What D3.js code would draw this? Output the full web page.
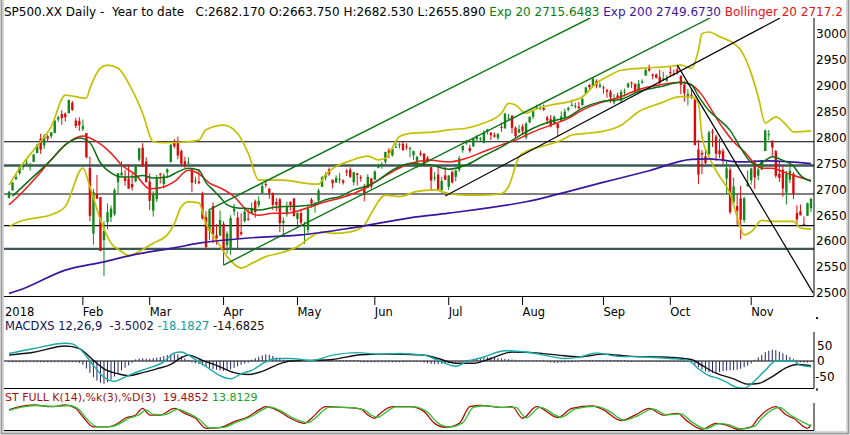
<!DOCTYPE html>
<html>
<head>
<meta charset="utf-8">
<script src="https://cdn.jsdelivr.net/npm/d3@7"></script>
<style>
body { margin: 0; background: #fff; }
text { font-family: "DejaVu Sans", sans-serif; white-space: pre; }
</style>
</head>
<body>
<div id="chart"></div>
<script>
// trading days, 2018
const dates = [
"01-02","01-03","01-04","01-05","01-08","01-09","01-10","01-11","01-12","01-16","01-17","01-18","01-19","01-22","01-23","01-24","01-25","01-26","01-29","01-30","01-31",
"02-01","02-02","02-05","02-06","02-07","02-08","02-09","02-12","02-13","02-14","02-15","02-16","02-20","02-21","02-22","02-23","02-26","02-27","02-28",
"03-01","03-02","03-05","03-06","03-07","03-08","03-09","03-12","03-13","03-14","03-15","03-16","03-19","03-20","03-21","03-22","03-23","03-26","03-27","03-28","03-29",
"04-02","04-03","04-04","04-05","04-06","04-09","04-10","04-11","04-12","04-13","04-16","04-17","04-18","04-19","04-20","04-23","04-24","04-25","04-26","04-27","04-30",
"05-01","05-02","05-03","05-04","05-07","05-08","05-09","05-10","05-11","05-14","05-15","05-16","05-17","05-18","05-21","05-22","05-23","05-24","05-25","05-29","05-30","05-31",
"06-01","06-04","06-05","06-06","06-07","06-08","06-11","06-12","06-13","06-14","06-15","06-18","06-19","06-20","06-21","06-22","06-25","06-26","06-27","06-28","06-29",
"07-02","07-03","07-05","07-06","07-09","07-10","07-11","07-12","07-13","07-16","07-17","07-18","07-19","07-20","07-23","07-24","07-25","07-26","07-27","07-30","07-31",
"08-01","08-02","08-03","08-06","08-07","08-08","08-09","08-10","08-13","08-14","08-15","08-16","08-17","08-20","08-21","08-22","08-23","08-24","08-27","08-28","08-29","08-30","08-31",
"09-04","09-05","09-06","09-07","09-10","09-11","09-12","09-13","09-14","09-17","09-18","09-19","09-20","09-21","09-24","09-25","09-26","09-27","09-28",
"10-01","10-02","10-03","10-04","10-05","10-08","10-09","10-10","10-11","10-12","10-15","10-16","10-17","10-18","10-19","10-22","10-23","10-24","10-25","10-26","10-29","10-30","10-31",
"11-01","11-02","11-05","11-06","11-07","11-08","11-09","11-12","11-13","11-14","11-15","11-16","11-19","11-20","11-21","11-23","11-26","11-27"
];

const open = [
2683.7,2697.9,2719.3,2731.3,2742.7,2751.2,2745.6,2753.0,2770.2,2798.0,2785.0,2802.4,2802.6,2809.2,2835.1,2845.4,2846.2,2847.5,2867.2,2832.7,2832.4,
2816.5,2808.9,2741.1,2614.8,2690.9,2685.0,2601.8,2636.8,2646.3,2651.8,2713.5,2727.1,2722.0,2720.5,2710.4,2715.8,2757.4,2780.5,2753.8,
2715.2,2658.9,2681.1,2730.2,2710.2,2732.8,2752.9,2790.5,2792.3,2774.1,2754.3,2750.6,2741.4,2715.1,2714.9,2691.4,2646.7,2619.4,2667.6,2611.3,2610.8,
2633.5,2592.2,2584.0,2657.4,2645.8,2617.2,2638.4,2643.0,2653.8,2676.9,2670.1,2692.7,2710.1,2701.2,2692.6,2675.4,2680.8,2634.9,2651.7,2675.5,2682.5,
2643.0,2654.2,2628.1,2621.5,2680.3,2670.3,2678.1,2705.0,2722.7,2738.5,2718.6,2713.0,2719.7,2717.4,2735.4,2738.3,2713.9,2730.9,2723.6,2705.1,2702.4,2720.9,
2718.7,2741.7,2748.5,2753.3,2774.8,2765.8,2780.2,2785.6,2787.9,2783.2,2777.8,2765.8,2752.0,2769.7,2769.3,2760.8,2742.9,2722.1,2728.5,2698.7,2727.1,
2704.9,2733.3,2724.2,2737.7,2775.6,2788.6,2779.8,2783.1,2796.9,2797.4,2789.3,2811.4,2809.4,2804.6,2799.2,2820.7,2817.7,2835.5,2842.4,2819.0,2809.7,
2821.2,2800.5,2829.6,2840.3,2855.9,2856.8,2857.2,2838.9,2835.5,2827.9,2827.0,2831.4,2838.3,2853.9,2861.5,2860.9,2860.3,2862.4,2884.7,2901.5,2900.6,2908.9,2898.4,
2896.9,2891.6,2888.6,2868.3,2881.4,2871.6,2888.3,2896.9,2906.4,2903.8,2890.7,2906.6,2919.7,2936.8,2921.8,2921.8,2916.9,2911.7,2910.0,
2926.3,2923.8,2931.7,2919.4,2902.5,2877.5,2882.5,2873.9,2776.9,2770.5,2763.8,2767.1,2811.7,2802.0,2775.7,2773.9,2721.0,2737.9,2674.9,2667.9,2682.7,2640.7,2705.6,
2717.6,2745.5,2726.4,2738.4,2774.1,2806.4,2794.1,2773.9,2730.1,2737.9,2693.5,2718.5,2730.1,2654.6,2657.7,2633.4,2649.0,2663.8
];
const high = [
2695.9,2714.4,2729.3,2743.5,2748.5,2759.1,2750.8,2767.6,2787.9,2807.5,2807.0,2805.8,2810.3,2833.0,2842.2,2853.0,2848.6,2872.9,2870.6,2837.8,2839.3,
2835.0,2808.9,2763.4,2701.0,2727.7,2685.3,2638.7,2672.6,2668.8,2702.1,2731.5,2754.4,2737.6,2747.8,2731.3,2747.8,2780.0,2789.2,2761.5,
2730.9,2696.3,2728.1,2732.1,2730.6,2740.5,2786.6,2796.9,2801.9,2777.1,2763.0,2761.9,2741.4,2724.2,2739.1,2695.7,2657.7,2661.4,2674.8,2632.7,2659.1,
2638.3,2619.1,2649.9,2672.1,2656.9,2653.6,2665.5,2661.4,2674.7,2680.3,2686.5,2713.3,2717.5,2702.8,2693.9,2682.9,2683.6,2645.3,2676.5,2677.4,2682.9,
2655.3,2660.9,2637.1,2670.9,2683.4,2676.3,2701.3,2726.1,2732.9,2742.1,2718.6,2727.0,2731.9,2719.5,2739.2,2742.2,2733.3,2731.9,2727.4,2710.7,2729.3,2722.5,
2736.9,2749.2,2752.6,2772.4,2779.9,2779.4,2790.2,2789.8,2791.5,2789.1,2782.8,2774.9,2765.1,2774.9,2769.3,2764.2,2742.9,2732.9,2746.1,2724.3,2743.3,
2727.3,2736.6,2737.8,2764.4,2784.7,2795.6,2785.9,2799.2,2804.5,2801.2,2814.2,2816.8,2810.5,2809.7,2808.6,2829.0,2848.0,2845.6,2843.2,2821.7,2824.5,
2825.8,2829.9,2840.4,2853.3,2863.4,2862.4,2864.0,2842.2,2843.4,2843.1,2827.0,2850.5,2855.6,2859.8,2873.2,2867.5,2868.8,2876.2,2898.3,2903.8,2916.5,2912.5,2906.3,
2900.2,2894.2,2892.1,2883.8,2886.9,2892.5,2894.7,2906.8,2908.3,2904.7,2911.2,2912.4,2934.8,2940.9,2923.8,2923.9,2931.2,2927.2,2920.5,
2937.1,2931.4,2939.9,2919.8,2909.6,2894.0,2894.8,2874.0,2795.1,2775.8,2775.9,2813.5,2816.9,2806.0,2797.8,2778.9,2753.6,2742.6,2722.7,2692.4,2706.9,2685.4,2736.7,
2741.7,2756.6,2744.3,2756.8,2815.2,2814.8,2794.1,2775.9,2754.6,2746.8,2735.4,2746.8,2733.2,2669.4,2670.7,2647.6,2674.4,2682.5
];
const low = [
2682.4,2697.8,2719.1,2727.9,2737.6,2747.9,2736.1,2752.8,2769.6,2768.6,2778.4,2792.6,2798.1,2808.1,2830.6,2824.8,2830.9,2846.2,2851.5,2818.3,2813.0,
2812.7,2759.9,2638.2,2593.1,2681.3,2580.6,2532.7,2622.5,2637.1,2648.9,2689.8,2725.1,2706.8,2701.3,2697.8,2713.7,2753.8,2744.2,2713.5,
2659.7,2647.3,2675.8,2711.3,2701.7,2721.5,2751.5,2779.3,2758.7,2744.4,2741.5,2749.0,2694.6,2710.1,2709.8,2641.6,2585.9,2601.8,2596.1,2593.1,2609.7,
2553.8,2575.5,2573.6,2649.6,2586.3,2610.8,2635.8,2639.3,2653.8,2645.1,2665.2,2692.1,2703.6,2681.9,2660.6,2657.9,2617.3,2612.7,2647.2,2659.0,2648.0,
2625.4,2631.7,2594.6,2615.3,2664.7,2655.2,2674.1,2704.5,2717.4,2725.5,2701.9,2712.2,2711.4,2709.2,2725.7,2721.9,2707.4,2707.4,2714.9,2676.8,2702.4,2700.7,
2718.7,2740.5,2739.5,2748.5,2760.2,2763.6,2779.9,2778.8,2774.7,2776.5,2761.7,2757.1,2740.6,2763.9,2744.4,2752.7,2698.7,2715.6,2699.4,2691.9,2718.0,
2698.9,2711.2,2716.0,2733.5,2770.7,2786.2,2770.8,2781.5,2791.7,2793.4,2789.2,2805.9,2795.2,2800.0,2795.1,2811.1,2817.7,2835.3,2808.3,2799.0,2808.1,
2805.9,2796.3,2827.4,2835.9,2855.9,2853.1,2851.7,2825.8,2819.9,2826.6,2802.5,2831.4,2833.7,2850.6,2861.3,2856.1,2854.0,2862.4,2884.7,2893.5,2898.4,2895.2,2895.8,
2885.1,2876.9,2867.3,2864.1,2875.9,2866.8,2879.2,2896.4,2895.8,2886.2,2890.4,2903.8,2919.7,2927.1,2912.6,2913.7,2903.3,2909.3,2907.5,
2917.9,2919.4,2921.4,2883.9,2869.3,2862.1,2874.3,2784.9,2710.5,2729.4,2749.0,2766.9,2781.8,2755.2,2760.3,2749.2,2691.4,2651.9,2667.8,2628.2,2603.5,2635.3,2705.6,
2708.9,2700.4,2717.9,2737.1,2774.1,2794.9,2764.2,2722.0,2714.2,2685.8,2670.8,2712.2,2681.1,2631.5,2649.8,2631.1,2649.0,2655.9
];
const close = [
2695.8,2713.1,2724.0,2743.2,2747.7,2751.3,2748.2,2767.6,2786.2,2776.4,2802.6,2798.0,2810.3,2833.0,2839.1,2837.5,2839.3,2872.9,2853.5,2822.4,2823.8,
2822.0,2762.1,2648.9,2695.1,2681.7,2581.0,2619.6,2656.0,2662.9,2698.6,2731.2,2732.2,2716.3,2701.3,2704.0,2747.3,2779.6,2744.3,2713.8,
2677.7,2691.3,2720.9,2728.1,2726.8,2739.0,2786.6,2783.0,2765.3,2749.5,2747.3,2752.0,2712.9,2716.9,2711.9,2643.7,2588.3,2658.6,2612.6,2605.0,2640.9,
2581.9,2614.5,2644.7,2662.8,2604.5,2613.2,2656.9,2642.2,2664.0,2656.3,2677.8,2706.4,2708.6,2693.1,2670.1,2670.3,2634.6,2639.4,2666.9,2669.9,2648.1,
2654.8,2635.7,2629.7,2663.4,2672.6,2671.9,2697.8,2723.1,2727.7,2730.1,2711.5,2722.5,2720.1,2713.0,2733.0,2724.4,2733.3,2727.8,2721.3,2689.9,2724.0,2705.3,
2734.6,2746.9,2748.8,2772.4,2770.4,2779.0,2782.0,2786.9,2775.6,2782.5,2779.7,2773.8,2762.6,2767.3,2749.8,2754.9,2717.1,2723.1,2699.6,2716.3,2718.4,
2726.7,2713.2,2736.6,2759.8,2784.2,2793.8,2774.0,2798.3,2801.3,2798.4,2809.6,2815.6,2804.5,2801.8,2807.0,2820.4,2846.1,2837.4,2818.8,2802.6,2816.3,
2813.4,2827.2,2840.4,2850.4,2858.5,2857.7,2853.6,2833.3,2821.9,2840.0,2818.4,2840.7,2850.1,2857.1,2863.0,2861.8,2857.0,2874.7,2896.7,2897.5,2914.0,2901.1,2901.5,
2896.7,2888.6,2878.1,2871.7,2877.1,2887.9,2888.9,2904.2,2905.0,2888.8,2904.3,2908.0,2930.8,2929.7,2919.4,2915.6,2906.0,2914.0,2914.0,
2924.6,2923.4,2925.5,2901.6,2885.6,2884.4,2880.3,2785.7,2728.4,2767.1,2750.8,2809.9,2809.2,2768.8,2767.8,2755.9,2740.7,2656.1,2705.6,2658.7,2641.3,2682.6,2711.7,
2740.4,2723.1,2738.3,2755.5,2813.9,2806.8,2781.0,2726.2,2722.2,2701.6,2730.2,2736.3,2690.7,2641.9,2649.9,2632.6,2673.5,2682.2
];

// indicator readings: [trading day index, value]
const ema20 = [[1,2687],[7,2725],[12,2757],[16,2786],[20,2799],[23,2790],[26,2751],[29,2732],[32,2724],[35,2724],[38,2727],[41,2722],[45,2724],[48,2734],[51,2741],[54,2737],[56,2713],[58,2699],[60,2685],[62,2670],[65,2664],[68,2663],[71,2660],[75,2665],[79,2667],[83,2668],[86,2670],[90,2680],[94,2686],[98,2699],[102,2707],[105,2718],[109,2737],[114,2750],[120,2747],[125,2739],[130,2747],[135,2765],[140,2782],[144,2799],[149,2818],[154,2831],[159,2840],[163,2857],[168,2869],[174,2874],[179,2889],[185,2898],[191,2907],[194,2902],[196,2880],[199,2852],[202,2834],[205,2814],[208,2780],[211,2752],[213,2747],[215,2756],[217,2763],[220,2756],[223,2745],[225,2727],[228,2715.6]];
const ema200 = [[0,2499],[4,2508],[16,2544],[27,2560],[35,2573],[47,2587],[54,2596],[68,2606],[83,2612],[97,2625],[114,2645],[125,2654],[147,2676],[168,2712],[182,2736],[194,2758],[199,2759],[208,2753],[216,2755],[228,2749.7]];
const sma20 = [[0,2670],[3,2689],[7,2718],[12,2757],[16,2786],[21,2803],[25,2792],[29,2770],[32,2747],[36,2728],[40,2701],[43,2703],[47,2715],[51,2737],[54,2730],[57,2712],[60,2703],[64,2686],[68,2657],[71,2650],[75,2654],[79,2654],[83,2660],[86,2667],[90,2676],[94,2683],[98,2692],[102,2705],[105,2718],[109,2734],[114,2750],[120,2756],[125,2753],[130,2760],[135,2773],[140,2786],[144,2795],[149,2811],[154,2824],[159,2837],[163,2853],[168,2867],[174,2879],[179,2893],[185,2902],[191,2907],[194,2902],[197,2882],[200,2850],[203,2818],[206,2792],[209,2773],[212,2750],[214,2741],[217,2741],[220,2734],[224,2725],[228,2717.2]];
const bbUpper = [[0,2708],[3,2741],[7,2776],[12,2821],[16,2882],[22,2876],[23,2895],[26,2934],[28,2940],[31,2934],[35,2892],[38,2847],[41,2792],[44,2790],[51,2792],[54,2795],[56,2815],[61,2824],[65,2808],[68,2770],[71,2718],[78,2718],[84,2712],[88,2710],[90,2728],[92,2740],[97,2755],[102,2764],[105,2757],[107,2760],[111,2802],[114,2808],[121,2811],[125,2815],[130,2818],[135,2828],[140,2847],[142,2866],[144,2863],[147,2847],[149,2853],[154,2863],[159,2869],[163,2879],[167,2905],[171,2921],[174,2930],[180,2934],[187,2937],[191,2940],[194,2934],[196,2969],[197,3001],[199,3004],[202,2995],[206,2982],[208,2969],[211,2924],[213,2879],[215,2828],[218,2840],[221,2824],[223,2811],[228,2813]];
const bbLower = [[0,2628],[3,2638],[7,2644],[12,2651],[16,2667],[21,2741],[23,2705],[26,2641],[29,2596],[32,2580],[34,2572],[37,2580],[41,2596],[45,2612],[47,2634],[49,2667],[51,2676],[54,2674],[56,2634],[59,2602],[62,2570],[66,2548],[69,2557],[73,2570],[77,2577],[82,2589],[86,2609],[89,2618],[92,2615],[97,2618],[101,2631],[103,2654],[107,2689],[111,2686],[116,2696],[121,2699],[125,2692],[130,2689],[135,2689],[140,2692],[142,2705],[145,2763],[147,2773],[151,2782],[157,2795],[160,2805],[164,2808],[168,2811],[174,2824],[179,2850],[185,2866],[191,2879],[194,2879],[196,2866],[197,2802],[199,2763],[202,2725],[205,2692],[207,2647],[209,2612],[211,2618],[214,2640],[217,2638],[223,2638],[225,2625],[228,2623]];

const supportLevels = [2792, 2691, 2630];
const majorLevels = [2746, 2585];
const greenTrends = [[[56.7, 2660], [165.2, 3031]], [[61, 2553.8], [199.3, 3031]]];
const blackTrends = [[[124, 2687], [219.2, 3031]], [[190, 2939.9], [228.6, 2500]]];

const macdLine = [[0,24],[7,40],[16,57],[18,55],[21,29],[24,-14],[27,-52],[30,-65],[32,-57],[35,-41],[39,-25],[44,-3],[47,26],[49,29],[51,19],[54,-3],[57,-25],[60,-47],[63,-57],[66,-41],[69,-30],[73,-3],[76,8],[80,8],[86,2],[92,19],[99,27],[105,22],[111,24],[118,19],[122,2],[127,-17],[130,-3],[135,13],[141,33],[147,29],[152,19],[158,8],[163,15],[167,26],[173,15],[181,13],[188,8],[193,2],[196,-25],[199,-47],[202,-57],[204,-68],[207,-85],[209,-87],[212,-63],[215,-30],[218,0],[223,0],[225,-14],[228,-18.2]];
const macdSignal = [[0,19],[7,28],[16,48],[20,40],[24,2],[27,-25],[31,-41],[34,-47],[38,-37],[42,-25],[46,-11],[49,11],[51,19],[55,2],[59,-14],[64,-37],[68,-43],[72,-33],[76,-13],[80,0],[86,2],[92,5],[100,20],[106,22],[118,19],[122,8],[127,-7],[132,-7],[137,8],[143,29],[149,27],[156,19],[162,13],[169,22],[177,15],[186,13],[194,5],[197,-14],[201,-39],[206,-57],[210,-74],[213,-72],[217,-50],[221,-21],[224,-11],[228,-14.7]];
const macdHist = [
-4,-4,-4,-4,-4,-4,-4,-4,-4,-4,-4,-4,-4,-4,-4,-4,-4,-4,-4,-4,
-6,-12,-24,-38,-52,-63,-70,-73,-68,-60,-50,-40,-30,-22,-14,-6,
5,8,9,8,7,9,11,13,16,19,22,24,21,15,9,4,
-4,-7,-10,-14,-19,-22,-26,-28,-30,-32,-30,-27,-22,-17,-12,-8,-5,
4,9,14,18,21,20,16,11,7,4,
3,3,3,3,3,3,3,3,3,3,3,3,3,3,3,3,3,3,3,3,3,
-4,-4,-4,-4,-4,-4,-4,-4,-4,-4,-4,-4,-4,
-3,-3,-3,-3,-3,
-5,-7,-9,-10,-10,-9,-8,-7,-6,-5,-3,-2,2,
5,7,9,11,12,12,11,10,9,8,7,6,5,4,
2,2,2,2,2,2,2,2,
-3,-5,-6,-6,-5,-5,-4,-4,-3,-3,
3,3,3,3,3,3,3,3,3,3,3,3,3,
-3,-3,-3,-3,-3,-3,-3,-3,-3,-3,-3,-3,-3,-3,-3,-3,-3,-3,
-6,-12,-20,-28,-33,-36,-38,-37,-35,-33,-31,-30,-29,-28,-25,-20,-15,-8,
4,12,20,28,33,36,35,30,25,19,13,7,
-2,-4,-5,-5,-3.5
];

const stochK = [[0,80],[3,93],[7,100],[12,93],[16,100],[19,86],[21,52],[24,11],[28,11],[31,25],[33,46],[36,59],[38,86],[40,59],[43,59],[47,86],[50,66],[53,46],[56,5],[60,8],[64,32],[68,52],[71,80],[73,93],[76,80],[80,46],[84,25],[86,46],[90,93],[95,90],[100,84],[102,59],[104,46],[105,59],[109,93],[114,93],[118,73],[121,25],[124,9],[128,25],[131,93],[134,98],[140,90],[143,93],[146,46],[150,93],[156,49],[160,86],[166,96],[169,80],[174,36],[178,59],[182,86],[186,59],[190,66],[193,32],[197,1],[201,25],[204,18],[207,1],[211,11],[213,46],[218,93],[221,59],[223,46],[227,5],[228,19.5]];
const stochD = [[0,78],[4,92],[8,98],[13,94],[17,98],[20,80],[22,45],[25,12],[29,12],[32,28],[34,45],[37,60],[39,80],[41,62],[44,60],[48,82],[51,66],[54,42],[57,7],[61,9],[65,32],[69,54],[72,80],[74,92],[77,78],[81,45],[85,28],[87,46],[91,90],[96,90],[101,80],[103,58],[105,50],[106,58],[110,92],[115,92],[119,70],[122,26],[125,10],[129,28],[132,90],[135,97],[141,90],[144,90],[147,48],[151,90],[157,50],[161,84],[167,94],[170,80],[175,38],[179,58],[183,84],[187,60],[191,64],[194,32],[198,3],[202,24],[205,18],[208,2],[212,14],[214,46],[219,90],[222,60],[224,44],[228,13.8]];

const monthLabels = ["2018","Feb","Mar","Apr","May","Jun","Jul","Aug","Sep","Oct","Nov"];
const priceTicks = [3000,2950,2900,2850,2800,2750,2700,2650,2600,2550,2500];
const macdTicks = [50,0,-50];

const W = 850, H = 435;
const L = 3, R = 814;
const svg = d3.select("#chart").append("svg").attr("width", W).attr("height", H);
svg.append("rect").attr("width", W).attr("height", H).attr("fill", "#fff");

const x = d3.scaleLinear().domain([0, close.length - 1]).range([9, 811]);
const yP = d3.scaleLinear().domain([2494, 3031]).range([296, 18]);
const yM = d3.scaleLinear().domain([-86.5, 93]).range([388, 332]);
const yS = d3.scaleLinear().domain([0, 100]).range([429.5, 405]);

const defs = svg.append("defs");
function clip(id, y0, y1) {
  defs.append("clipPath").attr("id", id).append("rect")
    .attr("x", L).attr("y", y0).attr("width", R - L).attr("height", y1 - y0);
}
clip("cp", 18, 296); clip("cm", 330, 388); clip("cs", 398, 430);

// ---- price panel
const gp = svg.append("g").attr("clip-path", "url(#cp)");
gp.selectAll(".lvl").data(supportLevels).enter().append("line")
  .attr("x1", L).attr("x2", R).attr("y1", d => yP(d)).attr("y2", d => yP(d))
  .attr("stroke", "#000").attr("stroke-width", 1.1);
gp.selectAll(".mlvl").data(majorLevels).enter().append("line")
  .attr("x1", L).attr("x2", R).attr("y1", d => yP(d)).attr("y2", d => yP(d))
  .attr("stroke", "#3d5656").attr("stroke-width", 2.4);

const idx = d3.range(close.length);
gp.selectAll(".wick").data(idx).enter().append("line")
  .attr("x1", i => x(i)).attr("x2", i => x(i))
  .attr("y1", i => yP(high[i])).attr("y2", i => yP(low[i]))
  .attr("stroke", i => close[i] >= open[i] ? "#12881a" : "#dc0a0a").attr("stroke-width", 1);
gp.selectAll(".body").data(idx).enter().append("rect")
  .attr("x", i => x(i) - 1.2).attr("width", 2.4)
  .attr("y", i => yP(Math.max(open[i], close[i])))
  .attr("height", i => Math.max(1, Math.abs(yP(open[i]) - yP(close[i]))))
  .attr("fill", i => close[i] >= open[i] ? "#12881a" : "#dc0a0a");

const lineP = d3.line().x(d => x(d[0])).y(d => yP(d[1])).curve(d3.curveMonotoneX);
[[bbUpper, "#c4c000", 1.7], [bbLower, "#c4c000", 1.7], [ema200, "#3a16a0", 1.7],
 [sma20, "#f01c1c", 1.5], [ema20, "#0a6e12", 1.5]].forEach(([pts, c, w]) => {
  gp.append("path").attr("d", lineP(pts)).attr("fill", "none").attr("stroke", c).attr("stroke-width", w);
});

const lineT = d3.line().x(d => x(d[0])).y(d => yP(d[1]));
greenTrends.forEach(t => gp.append("path").attr("d", lineT(t)).attr("stroke", "#0b7414").attr("stroke-width", 1.4).attr("fill", "none"));
blackTrends.forEach(t => gp.append("path").attr("d", lineT(t)).attr("stroke", "#000").attr("stroke-width", 1.2).attr("fill", "none"));

// price axis
svg.append("line").attr("x1", R).attr("x2", R).attr("y1", 18).attr("y2", 296).attr("stroke", "#000");
svg.selectAll(".pt").data(priceTicks).enter().append("text")
  .attr("x", 816).attr("y", d => yP(d)).attr("dy", "0.36em")
  .attr("font-size", 12).attr("fill", "#000").text(d => d);

// time axis
svg.append("line").attr("x1", L).attr("x2", R).attr("y1", 296.5).attr("y2", 296.5).attr("stroke", "#000");
const monthStart = idx.filter(i => i === 0 || dates[i].slice(0, 2) !== dates[i - 1].slice(0, 2));
monthStart.forEach((i, k) => {
  const tx = k === 0 ? L + 2 : x(i);
  if (k > 0) svg.append("line").attr("x1", tx).attr("x2", tx).attr("y1", 296).attr("y2", 305).attr("stroke", "#000");
  svg.append("text").attr("x", tx).attr("y", 315.5).attr("font-size", 11.5).attr("fill", "#000").text(monthLabels[k]);
});

// title
const title = svg.append("text").attr("x", 4).attr("y", 15.5).attr("font-size", 12);
title.append("tspan").attr("fill", "#000").text("SP500.XX Daily -  Year to date   C:2682.170 O:2663.750 H:2682.530 L:2655.890 ");
title.append("tspan").attr("fill", "#0a7a12").text("Exp 20 2715.6483 ");
title.append("tspan").attr("fill", "#3a16a0").text("Exp 200 2749.6730 ");
title.append("tspan").attr("fill", "#e81010").text("Bollinger 20 2717.2");

// ---- MACD panel
const gm = svg.append("g").attr("clip-path", "url(#cm)");
gm.append("line").attr("x1", L).attr("x2", R).attr("y1", yM(0)).attr("y2", yM(0)).attr("stroke", "#000");
gm.selectAll(".h").data(macdHist).enter().append("line")
  .attr("x1", (d, i) => x(i)).attr("x2", (d, i) => x(i))
  .attr("y1", yM(0)).attr("y2", d => yM(d))
  .attr("stroke", "#23236e").attr("stroke-width", 1);
const lineM = d3.line().x(d => x(d[0])).y(d => yM(d[1])).curve(d3.curveMonotoneX);
gm.append("path").attr("d", lineM(macdSignal)).attr("fill", "none").attr("stroke", "#111").attr("stroke-width", 1.4);
gm.append("path").attr("d", lineM(macdLine)).attr("fill", "none").attr("stroke", "#1aa8a8").attr("stroke-width", 1.4);
svg.append("line").attr("x1", L).attr("x2", R).attr("y1", 388.5).attr("y2", 388.5).attr("stroke", "#000");
svg.append("line").attr("x1", R).attr("x2", R).attr("y1", 332).attr("y2", 388).attr("stroke", "#000");
svg.selectAll(".mt").data(macdTicks).enter().append("text")
  .attr("x", d => d < 0 ? 815 : 817).attr("y", d => yM(d)).attr("dy", "0.36em")
  .attr("font-size", 12).attr("fill", "#000").text(d => d);
svg.selectAll(".md").data([318, 389.5]).enter().append("rect")
  .attr("x", 816).attr("y", d => d - 1).attr("width", 2).attr("height", 2).attr("fill", "#222");
const ml = svg.append("text").attr("x", 5).attr("y", 330).attr("font-size", 11.5);
ml.append("tspan").attr("fill", "#14145a").text("MACDXS 12,26,9  -3.5002 ");
ml.append("tspan").attr("fill", "#129c9c").text("-18.1827 ");
ml.append("tspan").attr("fill", "#111").text("-14.6825");

// ---- stochastic panel
const gs = svg.append("g").attr("clip-path", "url(#cs)");
const lineS = d3.line().x(d => x(d[0])).y(d => yS(d[1])).curve(d3.curveMonotoneX);
gs.append("path").attr("d", lineS(stochK)).attr("fill", "none").attr("stroke", "#b00a0a").attr("stroke-width", 1.3);
gs.append("path").attr("d", lineS(stochD)).attr("fill", "none").attr("stroke", "#2cc02c").attr("stroke-width", 1.3);
svg.append("line").attr("x1", R).attr("x2", R).attr("y1", 403).attr("y2", 430).attr("stroke", "#000");
svg.append("line").attr("x1", L).attr("x2", R).attr("y1", 430.5).attr("y2", 430.5).attr("stroke", "#000");
const sl = svg.append("text").attr("x", 5).attr("y", 401).attr("font-size", 11);
sl.append("tspan").attr("fill", "#a01010").text("ST FULL K(14),%k(3),%D(3)  19.4852 ");
sl.append("tspan").attr("fill", "#20a020").text("13.8129");

// frame
svg.append("path").attr("d", "M1.5,0 V433.5 H848.5 V0").attr("fill", "none").attr("stroke", "#9a9a9a").attr("stroke-width", 2);
svg.append("path").attr("d", "M3.5,0 V431.5 H846.5 V0").attr("fill", "none").attr("stroke", "#d4d4d4").attr("stroke-width", 1);
</script>
</body>
</html>
